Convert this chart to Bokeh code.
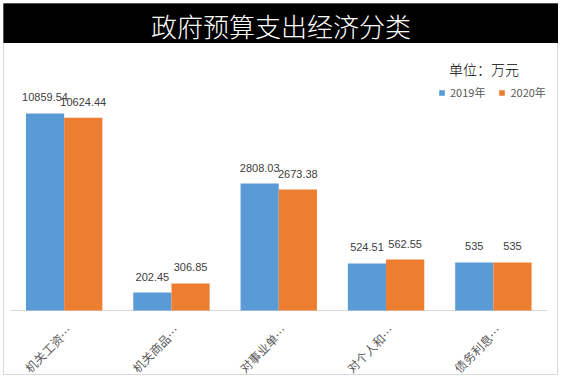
import numpy as np
from bokeh.plotting import figure
from bokeh.models import (ColumnDataSource, Range1d, Label, BoxAnnotation,
                          Legend, LegendItem)
from bokeh.core.properties import value
from bokeh.embed import file_html
from bokeh.resources import INLINE

# ---------------- data ----------------
title_text = "政府预算支出经济分类"
unit_text = "单位：万元"
series_names = ["2019年", "2020年"]
tick_labels = ["机关工资…", "机关商品…", "对事业单…", "对个人和…", "债务利息…"]
# values printed above the bars
label_2019 = ["10859.54", "202.45", "2808.03", "524.51", "535"]
label_2020 = ["10624.44", "306.85", "2673.38", "562.55", "535"]
# bar heights as drawn in the reference (bars there are not proportional
# to the printed values; heights, in the same units)
bar_2019 = [10859.54, 992, 6997, 2590, 2645]
bar_2020 = [10624.44, 1488, 6667, 2810, 2645]

colors = ["#5B9BD5", "#ED7D31"]
light_cjk = "'Noto Sans CJK SC Light', 'Noto Sans CJK SC'"

# ---------------- figure ----------------
n = len(tick_labels)
idx = np.arange(n)
bw = 0.356

p = figure(width=555, height=372,
           x_range=Range1d(-0.5652, 4.607), y_range=Range1d(-3581, 16915),
           x_axis_location=None, y_axis_location=None,
           output_backend="svg", toolbar_location=None, min_border=0,
           margin=(3, 0, 0, 3))
p.xgrid.visible = False
p.ygrid.visible = False
p.outline_line_color = "#d9d9d9"
p.outline_line_width = 1
p.background_fill_color = "white"
p.border_fill_color = "white"

src = ColumnDataSource(dict(
    x1=idx - bw / 2, x2=idx + bw / 2,
    b1=bar_2019, b2=bar_2020,
    l1=label_2019, l2=label_2020,
    x=idx, cat=tick_labels, zero=[0] * n,
))

# baseline axis line
p.segment(x0=[-0.5], x1=[n - 0.5], y0=[0], y1=[0], line_color="#d9d9d9", line_width=1)

r1 = p.vbar(x="x1", top="b1", bottom=0, width=bw, source=src,
            fill_color=colors[0], line_color=None)
r2 = p.vbar(x="x2", top="b2", bottom=0, width=bw, source=src,
            fill_color=colors[1], line_color=None)

lab_kw = dict(text_align="center", text_baseline="middle", y_offset=-16,
              text_font=value("Liberation Sans"), text_font_size="11px",
              text_color="#404040", source=src)
p.text(x="x1", y="b1", text="l1", **lab_kw)
p.text(x="x2", y="b2", text="l2", **lab_kw)

# category labels (rotated)
p.text(x="x", y="zero", text="cat", angle=np.pi / 4, x_offset=5, y_offset=17,
       text_align="right", text_baseline="middle",
       text_font=value("Noto Sans CJK SC"), text_font_size="12px",
       text_color="#595959", source=src)

# title bar
p.add_layout(BoxAnnotation(bottom=333, bottom_units="screen",
                           fill_color="black", fill_alpha=1.0,
                           line_color="black", line_alpha=1.0))
p.add_layout(Label(x=277.5, y=350, x_units="screen", y_units="screen",
                   text=title_text, text_align="center", text_baseline="middle",
                   text_font=light_cjk, text_font_size="26px",
                   text_color="white"))
p.add_layout(Label(x=480.5, y=307, x_units="screen", y_units="screen",
                   text=unit_text, text_align="center", text_baseline="middle",
                   text_font=light_cjk, text_font_size="14px",
                   text_color="black"))

legend = Legend(items=[LegendItem(label=series_names[0], renderers=[r1]),
                       LegendItem(label=series_names[1], renderers=[r2])],
                location=(435, 275), orientation="horizontal",
                glyph_width=7, glyph_height=7, label_standoff=5, spacing=13,
                padding=0, margin=0, label_height=11,
                label_text_font="Noto Sans CJK SC", label_text_font_size="11px",
                label_text_color="#595959",
                border_line_color=None, background_fill_alpha=0)
p.add_layout(legend)

open("out.html", "w").write(file_html(p, INLINE))
